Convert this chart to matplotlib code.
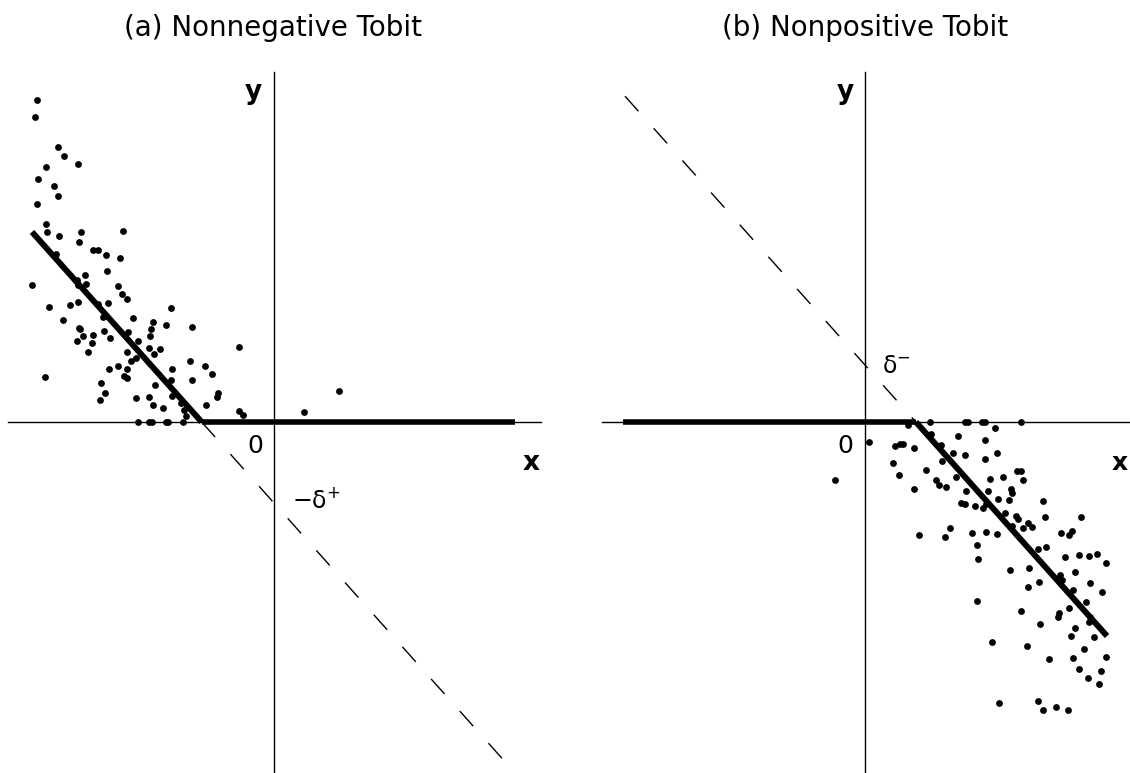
import numpy as np
import matplotlib
matplotlib.use("Agg")
import matplotlib.pyplot as plt

plt.rcParams["font.family"] = ["DejaVu Sans"]
plt.rcParams["mathtext.fontset"] = "dejavusans"

# (a) nonnegative tobit: uncensored observations (x, y)
a_x = [-23.7, -23.9, -21.6, -21.0, -19.6, -22.8, -23.6, -22.0, -21.6, -23.7,
       -22.8, -22.7, -21.5, -19.3, -19.5, -15.1, -18.1, -17.6, -16.8, -15.4,
       -21.8, -18.9, -16.7, -24.2, -19.7, -19.6, -18.8, -15.6, -15.2, -14.7,
       -22.5, -20.4, -19.6, -17.6, -16.6, -10.3, -21.1, -17.1, -14.1, -12.1,
       -10.8, -8.2, -19.5, -19.4, -17.0, -12.3, -18.1, -19.1, -12.4, -14.6,
       -16.4, -19.7, -18.2, -13.6, -12.5, -11.4, -12.0, -14.7, -18.6, -3.5,
       -13.8, -14.3, -8.4, -6.9, -16.5, -15.6, -14.7, -10.2, -6.2, -22.9,
       -15.0, -14.7, -10.3, -8.2, -17.3, -11.9, -16.9, -5.6, -5.7, -10.2,
       -13.8, -12.5, -17.4, -12.1, -11.1, -9.3, -6.8, -9.0, -8.8, -3.5,
       -3.1, 3.0, 6.5]
a_y = [32.2, 30.5, 27.5, 26.6, 25.8, 25.5, 24.3, 23.6, 22.6, 21.8,
       19.8, 19.0, 18.6, 19.0, 18.0, 19.1, 17.2, 17.2, 16.7, 16.4,
       16.8, 14.7, 15.1, 13.7, 14.2, 13.7, 13.8, 13.6, 12.8, 12.3,
       11.5, 11.7, 12.0, 11.8, 11.9, 11.4, 10.2, 10.5, 10.4, 10.0,
       9.7, 9.5, 9.4, 9.3, 9.1, 9.3, 8.7, 8.6, 8.6, 9.0,
       8.4, 8.1, 7.9, 8.1, 7.4, 7.3, 6.8, 7.0, 7.0, 7.5,
       6.4, 6.1, 6.1, 5.6, 5.3, 5.6, 5.3, 5.3, 4.8, 4.5,
       4.6, 4.4, 4.2, 4.2, 3.9, 3.7, 2.9, 2.9, 2.5, 2.6,
       2.4, 2.5, 2.2, 1.7, 1.4, 1.9, 1.7, 1.2, 0.6, 1.1,
       0.7, 1.0, 3.1]
# censored observations sitting on y = 0
a_cens_x = [-13.6, -12.5, -12.2, -10.8, -10.6, -9.1]

# (b) nonpositive tobit
b_x = [4.3, 13.0, 6.6, 9.3, 12.0, 0.4, 3.0, 3.5, 3.8, 7.6,
       4.9, 8.8, 13.2, 10.0, 12.0, 2.8, 7.7, 6.1, 15.2, 15.6,
       3.4, 9.1, 13.8, 12.5, 15.8, 7.1, 7.4, 8.1, 4.9, 10.1,
       12.3, 14.6, 14.7, 13.3, 14.4, 17.8, 9.6, 10.0, 11.0, 12.1,
       11.8, 14.0, 15.1, 15.3, 18.0, 21.6, 14.7, 15.8, 16.3, 16.7,
       8.5, 5.4, 8.0, 10.7, 12.1, 13.2, 19.6, 20.4, 20.7, 11.2,
       17.3, 18.1, 20.0, 21.4, 22.4, 23.2, 11.3, 14.5, 16.4, 24.1,
       21.0, 19.5, 19.7, 17.4, 16.3, 22.5, 20.8, 23.7, 11.2, 22.1,
       20.4, 15.6, 19.4, 19.3, 22.5, 22.4, 17.5, 21.0, 20.6, 22.9,
       12.7, 16.2, 21.9, 18.4, 20.8, 24.1, 21.4, 23.6, 22.3, 23.4,
       13.4, 17.3, 17.8, 19.1, 20.3, -3.0]
b_y = [-0.3, -0.6, -1.2, -1.4, -1.8, -2.0, -2.4, -2.2, -2.2, -2.3,
       -2.6, -3.1, -3.1, -3.3, -3.7, -4.1, -3.9, -4.8, -4.9, -4.9,
       -5.3, -5.5, -5.5, -5.7, -5.8, -5.8, -6.3, -6.5, -6.7, -6.9,
       -6.9, -6.7, -7.1, -7.7, -7.8, -7.9, -8.1, -8.2, -8.4, -8.2,
       -8.6, -9.1, -9.4, -9.7, -9.5, -9.5, -10.4, -10.6, -10.1, -10.5,
       -10.6, -11.3, -11.5, -11.1, -11.0, -11.2, -11.1, -11.3, -10.9, -12.3,
       -12.7, -12.5, -13.5, -13.3, -13.4, -13.2, -13.7, -14.8, -14.6, -14.1,
       -15.0, -15.3, -15.8, -16.0, -16.5, -16.1, -16.8, -17.0, -17.9, -18.0,
       -18.6, -18.9, -19.1, -19.5, -19.5, -20.0, -20.2, -20.6, -21.4, -21.5,
       -22.0, -22.4, -22.7, -23.7, -23.6, -23.5, -24.7, -24.9, -25.6, -26.2,
       -28.1, -27.9, -28.8, -28.5, -28.8, -5.8]
b_cens_x = [6.5, 10.0, 10.3, 11.7, 12.0, 15.6]

# fitted lines y = b0 + b1 * x
a_b0, a_b1 = -8.1, -1.12
b_b0, b_b1 = 5.7, -1.12
a_xrange = (-24.2, 24.1)
b_xrange = (-24.2, 24.2)
a_dash_end = 23.8
b_dash_start = -24.0

fig = plt.figure(figsize=(11.3, 7.73), dpi=100)
ax1 = fig.add_axes([0, 0, 0.5, 1])
ax2 = fig.add_axes([0.5, 0, 0.5, 1])
ax1.set_xlim(-27.4, 29.1)
ax2.set_xlim(-30.0, 26.5)
for ax in (ax1, ax2):
    ax.set_ylim(-35.1, 42.2)
    ax.axis("off")

def draw_axes(ax, x0, x1):
    ax.plot([x0, x1], [0, 0], color="black", lw=1.0, zorder=1)
    ax.plot([0, 0], [-35.1, 35.0], color="black", lw=1.0, zorder=1)

dot = 24

# panel (a)
draw_axes(ax1, -26.6, 26.7)
kink_a = -a_b0 / a_b1
xs = np.array([a_xrange[0], kink_a])
ax1.plot(xs, a_b0 + a_b1 * xs, color="black", lw=4.3, solid_capstyle="butt", zorder=3)
ax1.plot([kink_a, a_xrange[1]], [0, 0], color="black", lw=4.0, solid_capstyle="butt", zorder=3)
xs = np.array([kink_a, a_dash_end])
ln, = ax1.plot(xs, a_b0 + a_b1 * xs, color="black", lw=1.0, zorder=2)
ln.set_dashes([14.5, 16.5])
ax1.scatter(a_x, a_y, s=dot, color="black", linewidths=0, zorder=4)
ax1.scatter(a_cens_x, np.zeros(len(a_cens_x)), s=dot, color="black", linewidths=0, zorder=4)
ax1.text(-2.1, 33.0, "y", fontsize=19, fontweight="bold", ha="center", va="center")
ax1.text(-1.9, -2.4, "0", fontsize=18, ha="center", va="center")
ax1.text(25.7, -4.1, "x", fontsize=19, fontweight="bold", ha="center", va="center")
ax1.text(1.8, -7.9, r"$-\mathrm{\delta}^{+}$", fontsize=17, ha="left", va="center")

# panel (b)
draw_axes(ax2, -26.3, 26.5)
kink_b = -b_b0 / b_b1
ax2.plot([b_xrange[0], kink_b], [0, 0], color="black", lw=4.0, solid_capstyle="butt", zorder=3)
xs = np.array([kink_b, b_xrange[1]])
ax2.plot(xs, b_b0 + b_b1 * xs, color="black", lw=4.3, solid_capstyle="butt", zorder=3)
xs = np.array([b_dash_start, kink_b])
ln, = ax2.plot(xs, b_b0 + b_b1 * xs, color="black", lw=1.0, zorder=2)
ln.set_dashes([14.5, 16.5])
ax2.scatter(b_x, b_y, s=dot, color="black", linewidths=0, zorder=4)
ax2.scatter(b_cens_x, np.zeros(len(b_cens_x)), s=dot, color="black", linewidths=0, zorder=4)
ax2.text(-2.0, 33.0, "y", fontsize=19, fontweight="bold", ha="center", va="center")
ax2.text(-2.0, -2.4, "0", fontsize=18, ha="center", va="center")
ax2.text(25.5, -4.1, "x", fontsize=18, fontweight="bold", ha="center", va="center")
ax2.text(1.7, 5.6, r"$\mathrm{\delta}^{-}$", fontsize=17, ha="left", va="center")

fig.text(273 / 1130, 1 - 28 / 773, "(a) Nonnegative Tobit", fontsize=20, ha="center", va="center")
fig.text(865 / 1130, 1 - 28 / 773, "(b) Nonpositive Tobit", fontsize=20, ha="center", va="center")

fig.savefig("out.png", dpi=100)
